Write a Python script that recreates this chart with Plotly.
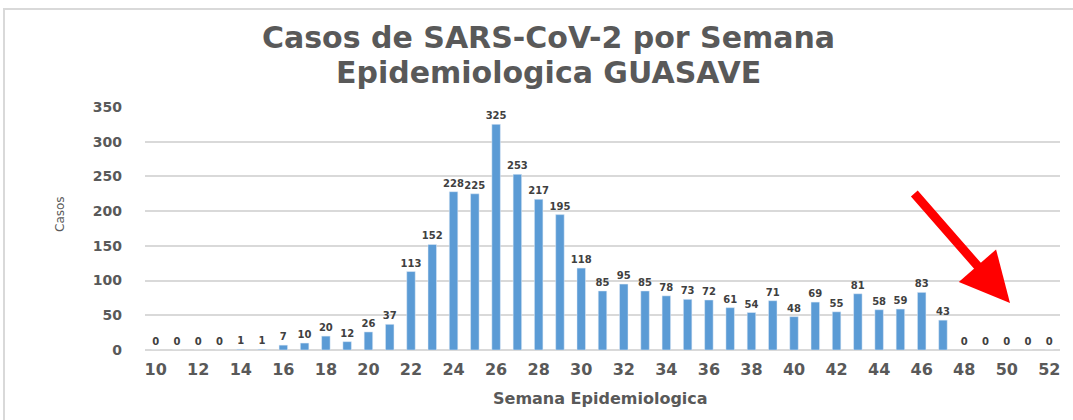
import plotly.graph_objects as go

weeks = list(range(10, 53))
cases = [0, 0, 0, 0, 1, 1, 7, 10, 20, 12, 26, 37, 113, 152, 228, 225, 325, 253, 217, 195,
         118, 85, 95, 85, 78, 73, 72, 61, 54, 71, 48, 69, 55, 81, 58, 59, 83, 43,
         0, 0, 0, 0, 0]
xticks = list(range(10, 53, 2))
yticks = list(range(0, 351, 50))

W, H = 1073, 420
L, R, T, B = 145, 13, 107, 70
pw, ph = W - L - R, H - T - B

def px(x):
    return (x - L) / pw

def py(y):
    return (H - B - y) / ph

FONT = "DejaVu Sans"
GRAY = "#595959"

fig = go.Figure(go.Bar(
    x=weeks, y=cases, marker_color="#5B9BD5", width=0.4,
    text=[str(c) for c in cases], textposition="outside", cliponaxis=False,
    constraintext="none",
    textfont=dict(family=FONT, size=10, color="#404040", weight="bold"),
))

fig.update_layout(
    width=W, height=H, margin=dict(l=L, r=R, t=T, b=B),
    paper_bgcolor="white", plot_bgcolor="white", showlegend=False,
    xaxis=dict(range=[9.5, 52.5], tickvals=xticks, ticktext=[str(t) for t in xticks],
               showgrid=False, showline=False, zeroline=False, ticks="",
               ticklabelstandoff=8,
               tickfont=dict(family=FONT, size=16, color=GRAY, weight="bold")),
    yaxis=dict(range=[0, 350], tickvals=yticks, showgrid=True, gridcolor="#d9d9d9",
               gridwidth=1.5, zeroline=True, zerolinecolor="#d9d9d9", zerolinewidth=1.5,
               ticklabelstandoff=22,
               tickfont=dict(family=FONT, size=14, color=GRAY, weight="bold")),
    font=dict(family=FONT),
)

def label(text, x, y, size, angle=0, bold=True):
    fig.add_annotation(text=text, xref="paper", yref="paper", x=px(x), y=py(y),
                       xanchor="center", yanchor="middle", showarrow=False,
                       textangle=angle,
                       font=dict(family=FONT, size=size, color=GRAY,
                                 weight="bold" if bold else "normal"))

label("Casos de SARS-CoV-2 por Semana", 548, 37, 30)
label("Epidemiologica GUASAVE", 548, 72, 30)
label("Semana Epidemiologica", 600, 398, 16)
label("Casos", 60, 214, 12, angle=-90, bold=False)

fig.add_annotation(text="", xref="paper", yref="paper", x=px(1010), y=py(303),
                   ax=-97, ay=-111, showarrow=True, arrowhead=2, arrowsize=1.1,
                   arrowwidth=9, arrowcolor="#FF0000")

fig.add_shape(type="rect", xref="paper", yref="paper",
              x0=px(4), x1=px(1090), y0=py(440), y1=py(9),
              line=dict(color="#d9d9d9", width=2), layer="below")

fig.write_html("out.html", config={"displayModeBar": False},
               post_script="document.body.style.margin='0';document.body.style.overflow='hidden';")
